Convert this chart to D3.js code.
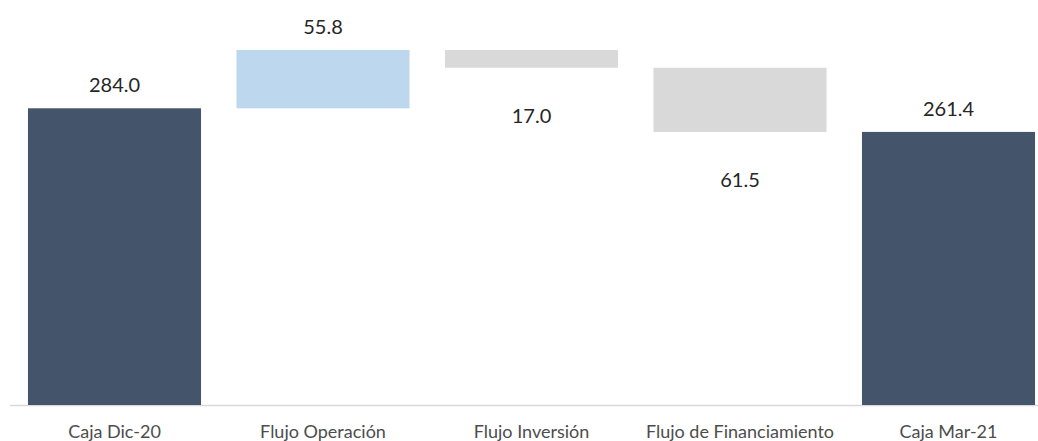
<!DOCTYPE html>
<html>
<head>
<meta charset="utf-8">
<script src="https://cdn.jsdelivr.net/npm/d3@7"></script>
<style>
  body { margin: 0; background: #fff; }
  text { font-family: "Lato", "Open Sans", sans-serif; }
</style>
</head>
<body>
<div id="viz"></div>
<script>
// chart data
var categories = ["Caja Dic-20", "Flujo Operación", "Flujo Inversión", "Flujo de Financiamiento", "Caja Mar-21"]
var kinds = ["total", "up", "down", "down", "total"]
var values = [284.0, 55.8, 17.0, 61.5, 261.4]

var w = 1038
var h = 441

// work out start/end of each step of the waterfall
var running = 0
var steps = categories.map((c, i) => {
  var v = values[i], lo, hi
  if (kinds[i] == "total") { lo = 0; hi = v; running = v }
  else if (kinds[i] == "up") { lo = running; hi = running + v; running = hi }
  else { hi = running; lo = running - v; running = lo }
  return { cat: c, kind: kinds[i], value: v, lo: lo, hi: hi }
})

var x = d3.scaleBand()
  .domain(categories)
  .range([10.25, 1052.75])
  .paddingInner(0.17)
  .paddingOuter(0.085)

var y = d3.scaleLinear()
  .domain([0, d3.max(steps, d => d.hi)])
  .range([405, 50])

var colors = { total: "#44546a", up: "#bdd7ee", down: "#d9d9d9" }

var svg = d3.select("#viz")
  .append("svg")
  .attr("width", w)
  .attr("height", h)

// baseline
svg.append("line")
  .attr("x1", 10).attr("x2", w)
  .attr("y1", y(0) + 0.5).attr("y2", y(0) + 0.5)
  .attr("stroke", "#d9d9d9")
  .attr("stroke-width", 1.5)

svg.selectAll(".bar").data(steps)
  .enter()
  .append("rect")
  .attr("class", "bar")
  .attr("x", d => x(d.cat))
  .attr("width", x.bandwidth())
  .attr("y", d => y(d.hi))
  .attr("height", d => y(d.lo) - y(d.hi))
  .attr("fill", d => colors[d.kind])

// value labels: above for totals and increases, below for decreases
svg.selectAll(".val").data(steps)
  .enter()
  .append("text")
  .attr("class", "val")
  .attr("x", d => x(d.cat) + x.bandwidth() / 2)
  .attr("y", d => d.kind == "down" ? y(d.lo) + 48 : y(d.hi) - 23)
  .attr("dy", "0.35em")
  .attr("text-anchor", "middle")
  .attr("font-size", 20)
  .attr("fill", "#262626")
  .text(d => d.value.toFixed(1))

// category axis
var axis = svg.append("g")
  .attr("transform", "translate(0," + y(0) + ")")
  .call(d3.axisBottom(x).tickSize(0).tickPadding(20))
axis.select(".domain").remove()
axis.selectAll("text")
  .attr("font-size", 18)
  .attr("font-family", "Lato, 'Open Sans', sans-serif")
  .attr("fill", "#4d4d4d")
</script>
</body>
</html>
